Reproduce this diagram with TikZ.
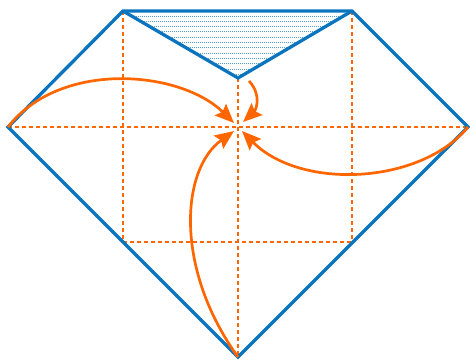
\documentclass[tikz,border=0pt]{standalone}
\usetikzlibrary{arrows.meta}
\definecolor{bl}{RGB}{10,116,190}
\definecolor{org}{RGB}{255,102,0}
\begin{document}
\begin{tikzpicture}[x=1pt,y=-1pt,
  outline/.style={draw=bl,line width=3.3pt,line join=miter},
  guide/.style={draw=org,line width=1.1pt,dash pattern=on 4pt off 3pt},
  hatch/.style={draw=bl!70,line width=0.8pt,dash pattern=on 1pt off 1pt},
  curvy/.style={draw=org,line width=2.7pt,-{Stealth[length=19pt,width=16pt,inset=3pt]}}]
\useasboundingbox (0,0) rectangle (470,361);
\coordinate (L) at (8,127);
\coordinate (TL) at (123,11);
\coordinate (TR) at (352,11);
\coordinate (R) at (468,127);
\coordinate (B) at (238,357);
\coordinate (V) at (238,78);
\coordinate (C) at (238,127);
\coordinate (BL) at (123,242);
\coordinate (BR) at (352,242);
\coordinate (BM) at (238,242);
% hatch
\begin{scope}
\clip (TL) -- (TR) -- (V) -- cycle;
\foreach \y in {16,21.3,...,80} \draw[hatch] (120,\y) -- (355,\y);
\end{scope}
% guides
\draw[guide] (L) -- (R);
\draw[guide] (BL) -- (BR);
\draw[guide] (TL) -- (BL);
\draw[guide] (TR) -- (BR);
\draw[guide] (V) -- (B);
% outline
\draw[outline] (L) -- (TL) -- (TR) -- (R) -- (B) -- cycle;
\draw[outline] (TL) -- (V) -- (TR);
% arrows
\draw[curvy] (L) .. controls (60,60) and (180,70) .. (234,123);
\draw[curvy] (R) .. controls (420,185) and (300,190) .. (242,131);
\draw[curvy] (B) .. controls (175,270) and (180,170) .. (234,131);
\draw[curvy] (249,81) .. controls (262,95) and (256,110) .. (243,122);
\end{tikzpicture}
\end{document}
